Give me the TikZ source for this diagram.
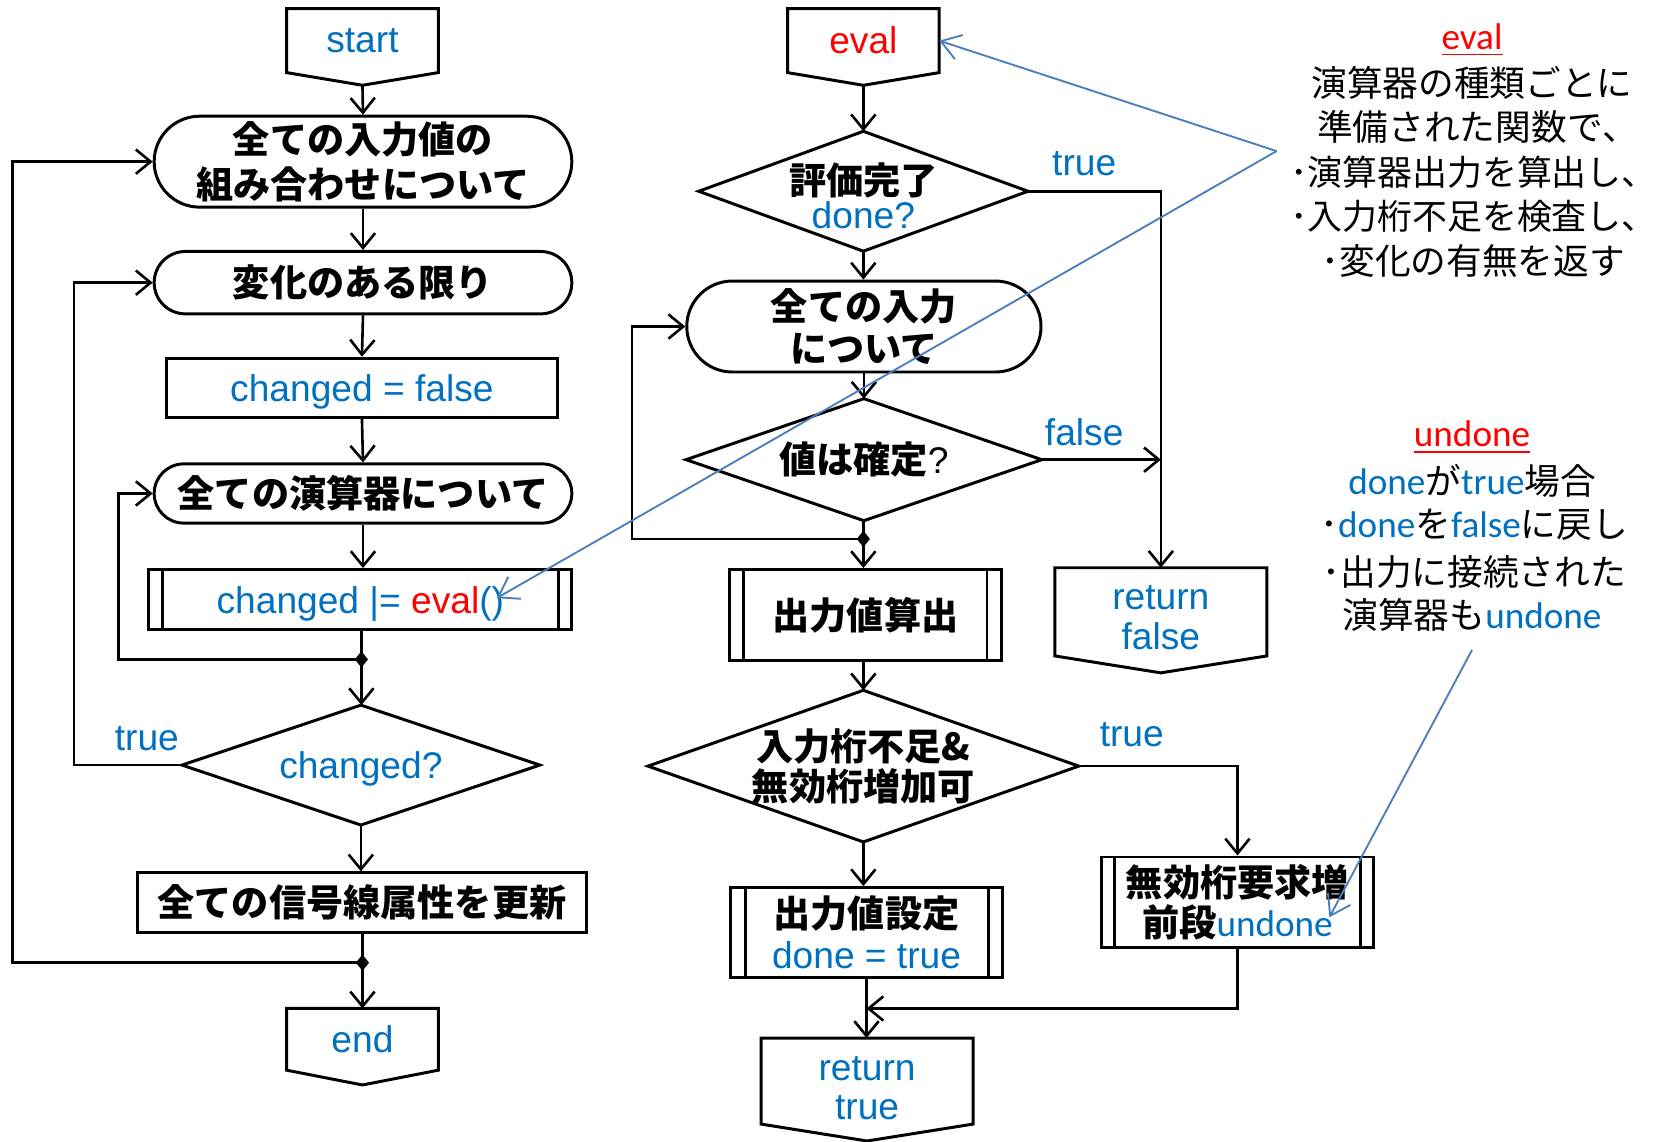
\documentclass[tikz,border=0pt]{standalone}
\usepackage{fontspec}
\usetikzlibrary{arrows.meta,calc,shapes.geometric}
\setmainfont{Liberation Sans}
\newfontfamily\jpf{Noto Sans CJK JP}
\newfontfamily\carl{Carlito}
\definecolor{tblue}{HTML}{0070C0}
\definecolor{tred}{HTML}{FF0000}
\definecolor{cline}{HTML}{4A7EBB}
\newcommand{\jb}[1]{{\jpf\bfseries #1}}
\newcommand{\bl}[1]{{\color{tblue}#1}}
\newcommand{\rd}[1]{{\color{tred}#1}}
\newcommand{\cb}[1]{{\carl\color{tblue}#1}}
\newcommand{\hcomma}{{\addfontfeature{RawFeature=+halt}、}}
\newcommand{\offpage}[2]{\draw[shp] (#1.north west) -- (#1.north east) -- (#1.south east) -- ($(#1.south)+(0,#2)$) -- (#1.south west) -- cycle;
  \coordinate (#1tip) at ($(#1.south)+(0,#2)$);}
\newcommand{\diam}[1]{\draw[shp] (#1.north) -- (#1.east) -- (#1.south) -- (#1.west) -- cycle;}
\newcommand{\predef}[2]{\draw[shp] ($(#1.north west)+(#2,0)$) -- ($(#1.south west)+(#2,0)$) ($(#1.north east)+(-#2,0)$) -- ($(#1.south east)+(-#2,0)$);}
\begin{document}
\begin{tikzpicture}[x=0.01cm,y=-0.01cm,
 every node/.style={font=\fontsize{10}{12}\selectfont},
 shp/.style={line width=0.8pt},
 box/.style={draw, shp, inner sep=0pt, align=center},
 basebox/.style={inner sep=0pt, align=center},
 arr/.style={line width=0.7pt, -{Straight Barb[length=1.4mm,width=2.3mm]}},
 ln/.style={line width=0.7pt},
 jn/.style={diamond, fill=black, inner sep=0pt, minimum width=0.13cm, minimum height=0.16cm},
 call/.style={draw=cline, line width=0.5pt, -{Straight Barb[length=1.8mm,width=2.4mm]}},
 lbl/.style={text=tblue, inner sep=0pt},
 ann/.style={inner sep=0pt, font=\jpf\fontsize{9.6}{12}\selectfont},
 anns/.style={inner sep=0pt, font=\jpf\fontsize{9.4}{12}\selectfont}
]
\useasboundingbox[fill=white] (0,0) rectangle (1568,1080);

% ---------------- left column ----------------
\node[basebox, minimum width=1.42cm, minimum height=0.59cm] (start) at (343,38.5) {\bl{start}};
\offpage{start}{12}
\node[box, rounded corners=0.43cm, minimum width=3.95cm, minimum height=0.86cm] (T1) at (343.5,153) {\jb{全ての入力値の}\\\jb{組み合わせについて}};
\node[box, rounded corners=0.295cm, minimum width=3.95cm, minimum height=0.59cm] (T2) at (343.5,267.5) {\jb{変化のある限り}};
\node[box, text depth=0pt, minimum width=3.69cm, minimum height=0.56cm] (R1) at (342.5,367) {\bl{changed = false}};
\node[box, rounded corners=0.28cm, minimum width=3.95cm, minimum height=0.56cm] (T3) at (343.5,467) {\jb{全ての演算器について}};
\node[box, text depth=0pt, minimum width=4.0cm, minimum height=0.57cm] (P1) at (341,567.5) {\bl{changed |= }\rd{eval}\bl{()}};
\predef{P1}{14}
\node[jn] (j1) at (342,624) {};
\node[basebox, text depth=0pt, minimum width=3.37cm, minimum height=1.12cm] (D1) at (341.5,724) {\bl{changed?}};
\diam{D1}
\node[lbl] (lt1) at (139,699) {true};
\node[box, minimum width=4.25cm, minimum height=0.56cm] (R2) at (342.5,854) {\jb{全ての信号線属性を更新}};
\node[jn] (j2) at (343,911) {};
\node[basebox, minimum width=1.42cm, minimum height=0.57cm] (end) at (343,983.5) {\bl{end}};
\offpage{end}{14}

\coordinate (lx0) at (12,0);
\coordinate (lx1) at (70,0);
\coordinate (lx2) at (112,0);

\draw[arr] (starttip) -- (T1.north);
\draw[arr] (T1.south) -- (T2.north);
\draw[arr] (T2.south) -- (R1.north);
\draw[arr] (R1.south) -- (T3.north);
\draw[arr] (T3.south) -- (P1.north -| T3.south);
\draw[ln] (P1.south -| j1.center) -- (j1.center);
\draw[arr] (j1.center) -- (j1.center |- D1.north);
\draw[arr] (j1.center) -- (j1.center -| lx2) |- (T3.west);
\draw[arr] (D1.south) -- (D1.south |- R2.north);
\draw[arr] (D1.west) -- (D1.west -| lx1) |- (T2.west);
\draw[ln] (R2.south -| j2.center) -- (j2.center);
\draw[arr] (j2.center) -- (end.north);
\draw[arr] (j2.center) -- (j2.center -| lx0) |- (T1.west);

% ---------------- middle column ----------------
\node[basebox, minimum width=1.42cm, minimum height=0.59cm] (eval) at (817,38.5) {\rd{eval}};
\offpage{eval}{12}
\node[basebox, minimum width=3.10cm, minimum height=1.12cm] (D2) at (817,181) {\rule{0pt}{11pt}\jb{評価完了}\\[-2.6pt]\bl{done?}};
\diam{D2}
\node[lbl] (lt2) at (1026,155) {true};
\node[box, rounded corners=0.43cm, minimum width=3.35cm, minimum height=0.86cm] (T4) at (817.5,309) {\jb{全ての入力}\\[-0.6pt]\jb{について}};
\node[basebox, minimum width=3.35cm, minimum height=1.14cm] (D3) at (817.5,435) {\jb{値は確定}?};
\diam{D3}
\node[lbl] (lf3) at (1026,409) {false};
\node[jn] (j3) at (817,510) {};
\node[box, minimum width=2.57cm, minimum height=0.86cm] (P2) at (819,582) {\jb{出力値算出}};
\predef{P2}{15}
\node[basebox, minimum width=4.06cm, minimum height=1.42cm] (D4) at (817,725) {\jb{入力桁不足\&}\\[-1.2pt]\jb{無効桁増加可}};
\diam{D4}
\node[lbl] (lt4) at (1071,695) {true};
\node[box, minimum width=2.57cm, minimum height=0.85cm] (P3) at (820,882.5) {\jb{出力値設定}\\[-1pt]\bl{done = true}};
\predef{P3}{15}
\node[basebox, minimum width=1.99cm, minimum height=0.80cm] (rt) at (820.5,1023) {\rule{0pt}{10.5pt}\bl{return}\\[-1.5pt]\bl{true}};
\offpage{rt}{16}
\node[basebox, minimum width=1.99cm, minimum height=0.82cm] (rf) at (1098.5,579) {\rule{0pt}{9.6pt}\bl{return}\\[-1.5pt]\bl{false}};
\offpage{rf}{16}
\node[box, minimum width=2.58cm, minimum height=0.86cm] (P4) at (1171,854) {\jb{無効桁要求増}\\[-1.2pt]\jb{前段}\cb{undone}};
\predef{P4}{14}

\coordinate (mx) at (598,0);
\draw[arr] (evaltip) -- (D2.north);
\draw[arr] (D2.south) -- (D2.south |- T4.north);
\draw[arr] (D2.east) -| (rf.north);
\draw[arr] (T4.south -| D3.north) -- (D3.north);
\draw[arr] (D3.east) -- (D3.east -| rf.north);
\draw[ln] (D3.south -| j3.center) -- (j3.center);
\draw[arr] (j3.center) -- (j3.center |- P2.north);
\draw[arr] (j3.center) -- (j3.center -| mx) |- (T4.west);
\draw[arr] (D4.north |- P2.south) -- (D4.north);
\draw[arr] (D4.south) -- (D4.south |- P3.north);
\draw[arr] (D4.east) -| (P4.north);
\draw[arr] (P3.south) -- (P3.south |- rt.north);
\draw[arr] (P4.south) |- ($(P3.south)!0.5!(P3.south |- rt.north)$);

% ---------------- annotations ----------------
\node[ann] (a1h) at (1393,38) {\carl\fontsize{10}{12}\selectfont\rd{\underline{eval}}};
\node[ann] (a1a) at (1393,78) {演算器の種類ごとに};
\node[ann] (a1b) at (1390,120) {準備された関数で\hcomma};
\node[anns] (a1c) at (1386,163) {･演算器出力を算出し\hcomma};
\node[anns] (a1d) at (1386,205) {･入力桁不足を検査し\hcomma};
\node[ann] (a1e) at (1394,247) {･変化の有無を返す};

\node[ann] (a2h) at (1393,414) {\carl\fontsize{10}{12}\selectfont\rd{\underline{undone}}};
\node[ann] (a2a) at (1393,455) {\cb{\fontsize{10}{12}\selectfont done}が\cb{\fontsize{10}{12}\selectfont true}場合};
\node[ann] (a2b) at (1395,497) {･\cb{\fontsize{10}{12}\selectfont done}を\cb{\fontsize{10}{12}\selectfont false}に戻し};
\node[ann] (a2c) at (1395,541) {･出力に接続された};
\node[ann] (a2d) at (1393,582) {演算器も\cb{\fontsize{10}{12}\selectfont undone}};

\coordinate (cv) at (1208,143);
\coordinate (evp) at (470,566);
\coordinate (uv) at (1393,615);
\coordinate (unp) at (1258,868);
\draw[call] (cv) -- (eval.east);
\draw[call] (cv) -- (evp);
\draw[call] (uv) -- (unp);
\end{tikzpicture}
\end{document}
